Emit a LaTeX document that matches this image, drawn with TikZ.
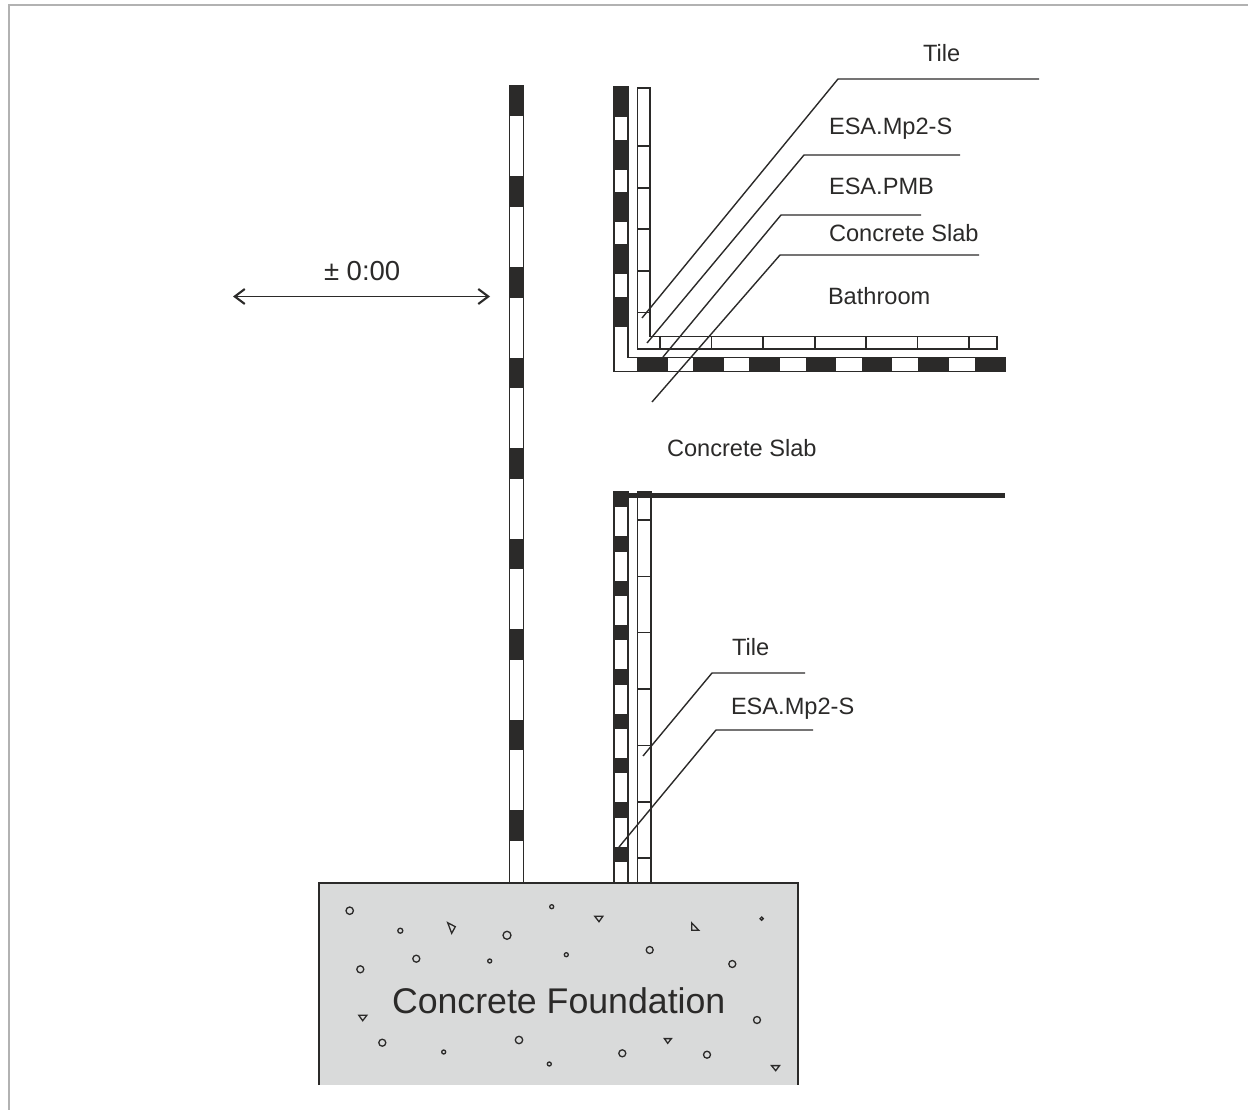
\documentclass[tikz,border=0pt]{standalone}
\usepackage{fontspec}
\setmainfont{Liberation Sans}
\usetikzlibrary{arrows.meta}
\definecolor{ink}{HTML}{2B2A29}
\definecolor{conc}{HTML}{D9DADA}
\definecolor{frame}{HTML}{B2B2B2}
\tikzset{
  x=1pt,y=-1pt,
  every node/.style={inner sep=0pt,outer sep=0pt,text=ink},
  wall/.style={draw=ink,line width=1.7pt,fill=white},
  blk/.style={fill=ink,draw=none},
  joint/.style={draw=ink,line width=1.3pt},
  leader/.style={draw=ink,line width=1.4pt},
  stone/.style={draw=ink,line width=1.3pt,fill=none},
  lab/.style={font=\fontsize{23.6}{25}\selectfont,anchor=base west},
}
\begin{document}
\begin{tikzpicture}
\useasboundingbox (0,0) rectangle (1248,1110);
% frame
\draw[frame,line width=2pt] (9,1110) -- (9,5) -- (1248,5);
% foundation
\fill[conc] (319,883) rectangle (798,1085);
\draw[ink,line width=1.3pt] (319,1085) -- (319,883) -- (798,883) -- (798,1085);
% free-standing wall
\draw[wall] (509.5,86) rectangle (523.5,883);
\foreach \y in {86,176.5,267,357.5,448,538.5,629,719.5,810}
  \fill[blk] (508.6,\y) rectangle (524.4,\y+30.5);
% upper slab membrane
\draw[wall] (614,87) -- (614,371.5) -- (1005,371.5) -- (1005,357.5) -- (628,357.5) -- (628,87) -- cycle;
\foreach \y in {87,140,192,244,296.5}
  \fill[blk] (613,\y) rectangle (628.8,\y+30.5);
\foreach \x in {637,693,749.3,805.6,861.8,918,974.5}
  \fill[blk] (\x,356.7) rectangle (\x+30.5,372.3);
% upper tile
\draw[wall] (637.5,88) -- (637.5,349) -- (997,349) -- (997,336.5) -- (650,336.5) -- (650,88) -- cycle;
\foreach \y in {146,188,229,271,312.5}
  \draw[joint] (637.5,\y) -- (650,\y);
\foreach \x in {660,711.5,763,815,866,917.5,969}
  \draw[joint] (\x,336.5) -- (\x,349);
% lower wall
\draw[wall] (614,492) rectangle (628,883);
\foreach \y in {492,536.3,580.7,625,669.3,713.7,758,802.3,846.7}
  \fill[blk] (613,\y) rectangle (628.8,\y+15.3);
\draw[wall] (637.5,492) rectangle (651,883);
\foreach \y in {520,576.3,632.7,689,745.5,802,858}
  \draw[joint] (637.5,\y) -- (651,\y);
\draw[ink,line width=5.2pt] (628,495.5) -- (1005,495.5);
% leaders
\draw[leader] (1039,79) -- (838,79) -- (642,318);
\draw[leader] (960,155) -- (804,155) -- (647,343);
\draw[leader] (921,215) -- (781,215) -- (663,357);
\draw[leader] (979,255) -- (780,255) -- (652,402);
\draw[leader] (805,673) -- (712,673) -- (643,756);
\draw[leader] (813,730) -- (716,730) -- (619,847);
% level arrow
\draw[ink,line width=1.5pt,{Straight Barb[length=10pt,width=15pt,line width=2.1pt]}-{Straight Barb[length=10pt,width=15pt,line width=2.1pt]}] (233,296.5) -- (490,296.5);
% labels
\node[lab] (t1) at (923,62) {Tile};
\node[lab] (t2) at (829,135) {ESA.Mp2-S};
\node[lab] (t3) at (829,195) {ESA.PMB};
\node[lab] (t4) at (829,242) {Concrete Slab};
\node[lab] (t5) at (828,304) {Bathroom};
\node[lab] (t6) at (667,456) {Concrete Slab};
\node[lab] (t7) at (732,655) {Tile};
\node[lab] (t8) at (731,714) {ESA.Mp2-S};
\node[anchor=base west,font=\fontsize{27.5}{29}\selectfont] (lvl) at (324,280) {± 0:00};
\node[anchor=base west,font=\fontsize{35.7}{38}\selectfont] (fnd) at (392,1013) {Concrete Foundation};
% aggregate
\foreach \x/\y/\r in {349.7/910.7/3.7,400.3/930.7/2.5,507/935.3/4,416.3/958.7/3.5,489.7/961/2,360.3/969.3/3.5,551.7/906.7/2,382.3/1042.7/3.5,443.7/1052/2,519/1040/3.7,549.3/1064/2,566.3/954.7/2,649.7/950/3.5,732.3/964/3.5,761.7/918.7/1.6,757/1020/3.5,622.3/1053.3/3.5,707/1054.7/3.5}
  \draw[stone] (\x,\y) circle[radius=\r];
\draw[stone] (447.7,922.7) -- (455.3,926.7) -- (451.7,933.3) -- cycle;
\draw[stone] (358.8,1015.3) -- (366.8,1015.3) -- (362.7,1020.7) -- cycle;
\draw[stone] (594.8,916.3) -- (602.8,916.3) -- (599,921.7) -- cycle;
\draw[stone] (691.8,923) -- (698.8,930.3) -- (691.8,930.3) -- cycle;
\draw[stone] (664.4,1038.6) -- (671.4,1038.6) -- (667.7,1043.3) -- cycle;
\draw[stone] (771.5,1065.6) -- (779.5,1065.6) -- (775.7,1070.7) -- cycle;
\end{tikzpicture}
\end{document}
